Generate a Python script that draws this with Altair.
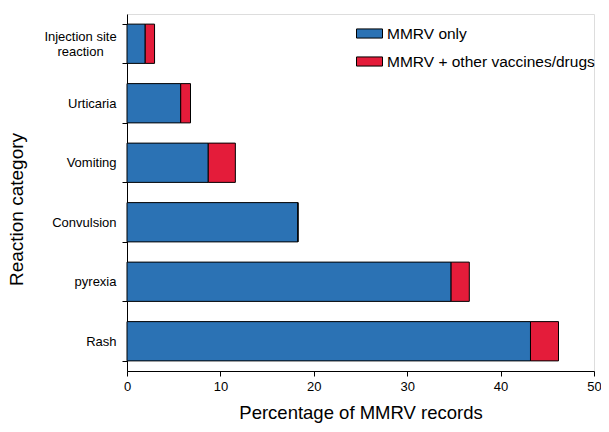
import altair as alt
import pandas as pd

categories = ["Injection site reaction", "Urticaria", "Vomiting", "Convulsion", "pyrexia", "Rash"]
series = ["MMRV only", "MMRV + other vaccines/drugs"]
mmrv_only = [1.95, 5.75, 8.7, 18.3, 34.7, 43.2]
mmrv_other = [1.0, 1.05, 2.9, 0.0, 1.95, 3.0]

rows = []
for c, a, b in zip(categories, mmrv_only, mmrv_other):
    rows.append({"category": c, "series": series[0], "value": a, "order": 0})
    rows.append({"category": c, "series": series[1], "value": b, "order": 1})
df = pd.DataFrame(rows)

FONT = "Liberation Sans"
IS_INJ = "datum.value == 'Injection site reaction'"

bars = alt.Chart(df).mark_bar(stroke="#000000", strokeWidth=1).encode(
    y=alt.Y(
        "category:N",
        sort=categories,
        scale=alt.Scale(paddingInner=0.34, paddingOuter=0.17),
        axis=alt.Axis(
            title="Reaction category",
            titleFontSize=19,
            titleFontWeight="normal",
            titleFont=FONT,
            titleColor="#000000",
            titleX=-101,
            titleY=195,
            labelFont=FONT,
            labelFontSize=13,
            labelColor="#000000",
            labelPadding={"condition": {"test": IS_INJ, "value": 42}, "value": 6},
            labelAlign={"condition": {"test": IS_INJ, "value": "center"}, "value": "right"},
            labelOffset={"condition": {"test": IS_INJ, "value": -7}, "value": 0},
            tickSize=5,
            tickBand="extent",
            tickColor="#000000",
            domainColor="#000000",
            grid=False,
            labelExpr="datum.value == 'Injection site reaction' ? ['Injection site', 'reaction'] : datum.value",
            labelLineHeight=15,
        ),
    ),
    x=alt.X(
        "value:Q",
        stack="zero",
        scale=alt.Scale(domain=[0, 50], nice=False),
        axis=alt.Axis(
            title="Percentage of MMRV records",
            values=[0, 10, 20, 30, 40, 50],
            titleFontSize=18.5,
            titleFontWeight="normal",
            titleFont=FONT,
            titleColor="#000000",
            titleY=32,
            labelFont=FONT,
            labelFontSize=13,
            labelColor="#000000",
            labelPadding=4,
            labelFlush=False,
            tickSize=5,
            tickColor="#000000",
            domainColor="#000000",
            grid=False,
        ),
    ),
    color=alt.Color(
        "series:N",
        sort=series,
        scale=alt.Scale(domain=series, range=["#2b72b4", "#e41c3a"]),
        legend=alt.Legend(
            title=None,
            orient="none",
            legendX=229,
            legendY=6,
            padding=0,
            symbolType="M-1,-0.35H1V0.35H-1Z",
            symbolSize=676,
            symbolStrokeColor="#000000",
            symbolStrokeWidth=1,
            labelFont=FONT,
            labelFontSize=15.5,
            labelColor="#000000",
            labelOffset=4,
            labelLimit=400,
            rowPadding=6,
        ),
    ),
    order=alt.Order("order:Q"),
)

chart = bars.properties(
    width=467,
    height=357,
    autosize=alt.AutoSizeParams(type="none"),
    padding={"left": 119, "top": 6, "right": 7, "bottom": 53},
).configure_view(stroke=None).configure(background="#ffffff")

chart.save("out.html", embed_options={"renderer": "svg", "actions": False})
